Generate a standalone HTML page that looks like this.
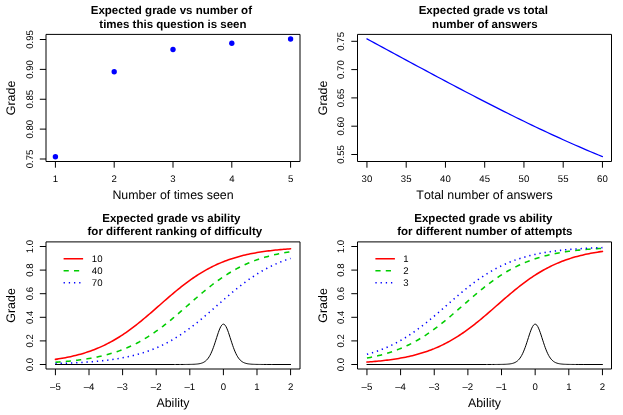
<!DOCTYPE html>
<html><head><meta charset="utf-8"><title>Expected grade plots</title>
<style>
html,body{margin:0;padding:0;background:#fff;}
body{width:623px;height:415px;overflow:hidden;}
svg{display:block;will-change:transform;}
text{font-family:"Liberation Sans",sans-serif;fill:#000;text-rendering:geometricPrecision;font-kerning:none;font-variant-ligatures:none;}
.t{font-size:9.6px;}
.l{font-size:12.4px;}
.m{font-size:11.53px;font-weight:bold;}
.ax{stroke:#000;stroke-width:1.0;fill:none;stroke-linejoin:round;}
.tk{stroke:#000;stroke-width:1;fill:none;}
</style></head><body>
<svg width="623" height="415" viewBox="0 0 623 415">
<rect width="623" height="415" fill="#fff"/>
<rect class="ax" x="46" y="34.4" width="254" height="127.1"/>
<path class="tk" d="M55.41 161.5v6.2M114.2 161.5v6.2M173 161.5v6.2M231.8 161.5v6.2M290.59 161.5v6.2"/>
<text class="t" x="55.41" y="181.9" text-anchor="middle">1</text>
<text class="t" x="114.2" y="181.9" text-anchor="middle">2</text>
<text class="t" x="173" y="181.9" text-anchor="middle">3</text>
<text class="t" x="231.8" y="181.9" text-anchor="middle">4</text>
<text class="t" x="290.59" y="181.9" text-anchor="middle">5</text>
<path class="tk" d="M46 39.5h-6.2M46 69.38h-6.2M46 99.25h-6.2M46 129.12h-6.2M46 159h-6.2"/>
<text class="t" transform="translate(32.6 39.5) rotate(-90)" text-anchor="middle">0.95</text>
<text class="t" transform="translate(32.6 69.38) rotate(-90)" text-anchor="middle">0.90</text>
<text class="t" transform="translate(32.6 99.25) rotate(-90)" text-anchor="middle">0.85</text>
<text class="t" transform="translate(32.6 129.12) rotate(-90)" text-anchor="middle">0.80</text>
<text class="t" transform="translate(32.6 159) rotate(-90)" text-anchor="middle">0.75</text>
<text class="l" x="173" y="199.4" text-anchor="middle">Number of times seen</text>
<text class="l" transform="translate(15.3 97.95) rotate(-90)" text-anchor="middle">Grade</text>
<text class="m" x="171.35" y="14" text-anchor="middle">Expected grade vs number of</text>
<text class="m" x="172.9" y="27.8" text-anchor="middle">times this question is seen</text>
<circle cx="55.41" cy="156.75" r="2.68" fill="#0000ff"/>
<circle cx="114.2" cy="71.8" r="2.68" fill="#0000ff"/>
<circle cx="173" cy="49.5" r="2.68" fill="#0000ff"/>
<circle cx="231.8" cy="43.2" r="2.68" fill="#0000ff"/>
<circle cx="290.59" cy="39" r="2.68" fill="#0000ff"/>
<rect class="ax" x="357.5" y="34.4" width="254" height="127.1"/>
<path class="tk" d="M366.95 161.5v6.2M406.2 161.5v6.2M445.45 161.5v6.2M484.7 161.5v6.2M523.95 161.5v6.2M563.2 161.5v6.2M602.45 161.5v6.2"/>
<text class="t" x="366.95" y="181.9" text-anchor="middle">30</text>
<text class="t" x="406.2" y="181.9" text-anchor="middle">35</text>
<text class="t" x="445.45" y="181.9" text-anchor="middle">40</text>
<text class="t" x="484.7" y="181.9" text-anchor="middle">45</text>
<text class="t" x="523.95" y="181.9" text-anchor="middle">50</text>
<text class="t" x="563.2" y="181.9" text-anchor="middle">55</text>
<text class="t" x="602.45" y="181.9" text-anchor="middle">60</text>
<path class="tk" d="M357.5 41.3h-6.2M357.5 69.6h-6.2M357.5 97.9h-6.2M357.5 126.2h-6.2M357.5 154.5h-6.2"/>
<text class="t" transform="translate(344.1 41.3) rotate(-90)" text-anchor="middle">0.75</text>
<text class="t" transform="translate(344.1 69.6) rotate(-90)" text-anchor="middle">0.70</text>
<text class="t" transform="translate(344.1 97.9) rotate(-90)" text-anchor="middle">0.65</text>
<text class="t" transform="translate(344.1 126.2) rotate(-90)" text-anchor="middle">0.60</text>
<text class="t" transform="translate(344.1 154.5) rotate(-90)" text-anchor="middle">0.55</text>
<text class="l" x="484.5" y="199.4" text-anchor="middle">Total number of answers</text>
<text class="l" transform="translate(326.8 97.95) rotate(-90)" text-anchor="middle">Grade</text>
<text class="m" x="483.3" y="14" text-anchor="middle">Expected grade vs total</text>
<text class="m" x="484.9" y="27.8" text-anchor="middle">number of answers</text>
<path d="M366.95 38.9 L370.88 41.02 L374.8 43.14 L378.72 45.26 L382.65 47.38 L386.57 49.5 L390.5 51.63 L394.43 53.75 L398.35 55.87 L402.27 57.99 L406.2 60.11 L410.12 62.22 L414.05 64.34 L417.97 66.45 L421.9 68.56 L425.82 70.67 L429.75 72.77 L433.67 74.87 L437.6 76.96 L441.52 79.05 L445.45 81.14 L449.38 83.22 L453.3 85.29 L457.23 87.36 L461.15 89.42 L465.07 91.48 L469 93.53 L472.93 95.57 L476.85 97.6 L480.77 99.63 L484.7 101.65 L488.62 103.65 L492.55 105.65 L496.48 107.64 L500.4 109.63 L504.32 111.6 L508.25 113.56 L512.17 115.51 L516.1 117.45 L520.02 119.37 L523.95 121.29 L527.88 123.19 L531.8 125.08 L535.73 126.96 L539.65 128.83 L543.58 130.68 L547.5 132.52 L551.42 134.34 L555.35 136.15 L559.27 137.94 L563.2 139.72 L567.12 141.49 L571.05 143.23 L574.98 144.97 L578.9 146.68 L582.83 148.38 L586.75 150.06 L590.67 151.72 L594.6 153.37 L598.52 154.99 L602.45 156.6" fill="none" stroke="#0000ff" stroke-width="1.25" stroke-linecap="round" stroke-linejoin="round"/>
<rect class="ax" x="46" y="241.9" width="254" height="127.1"/>
<path class="tk" d="M55.41 369v6.2M89.01 369v6.2M122.6 369v6.2M156.2 369v6.2M189.8 369v6.2M223.4 369v6.2M256.99 369v6.2M290.59 369v6.2"/>
<text class="t" x="55.41" y="390.05" text-anchor="middle">–5</text>
<text class="t" x="89.01" y="390.05" text-anchor="middle">–4</text>
<text class="t" x="122.6" y="390.05" text-anchor="middle">–3</text>
<text class="t" x="156.2" y="390.05" text-anchor="middle">–2</text>
<text class="t" x="189.8" y="390.05" text-anchor="middle">–1</text>
<text class="t" x="223.4" y="390.05" text-anchor="middle">0</text>
<text class="t" x="256.99" y="390.05" text-anchor="middle">1</text>
<text class="t" x="290.59" y="390.05" text-anchor="middle">2</text>
<path class="tk" d="M46 364.5h-6.2M46 340.9h-6.2M46 317.3h-6.2M46 293.7h-6.2M46 270.1h-6.2M46 246.5h-6.2"/>
<text class="t" transform="translate(32.6 364.5) rotate(-90)" text-anchor="middle">0.0</text>
<text class="t" transform="translate(32.6 340.9) rotate(-90)" text-anchor="middle">0.2</text>
<text class="t" transform="translate(32.6 317.3) rotate(-90)" text-anchor="middle">0.4</text>
<text class="t" transform="translate(32.6 293.7) rotate(-90)" text-anchor="middle">0.6</text>
<text class="t" transform="translate(32.6 270.1) rotate(-90)" text-anchor="middle">0.8</text>
<text class="t" transform="translate(32.6 246.5) rotate(-90)" text-anchor="middle">1.0</text>
<text class="l" x="173" y="406.9" text-anchor="middle">Ability</text>
<text class="l" transform="translate(15.3 305.45) rotate(-90)" text-anchor="middle">Grade</text>
<text class="m" x="171.4" y="221.5" text-anchor="middle">Expected grade vs ability</text>
<text class="m" x="174.85" y="235.3" text-anchor="middle">for different ranking of difficulty</text>
<path d="M55.41 359.36 L57.09 359.11 L58.77 358.85 L60.45 358.58 L62.13 358.29 L63.81 357.99 L65.49 357.67 L67.17 357.34 L68.85 357 L70.53 356.64 L72.21 356.27 L73.89 355.87 L75.57 355.47 L77.25 355.04 L78.93 354.6 L80.61 354.13 L82.29 353.65 L83.97 353.15 L85.65 352.62 L87.33 352.08 L89.01 351.51 L90.69 350.92 L92.37 350.31 L94.04 349.67 L95.72 349.01 L97.4 348.33 L99.08 347.62 L100.76 346.88 L102.44 346.12 L104.12 345.33 L105.8 344.51 L107.48 343.67 L109.16 342.8 L110.84 341.9 L112.52 340.97 L114.2 340.01 L115.88 339.03 L117.56 338.02 L119.24 336.98 L120.92 335.91 L122.6 334.81 L124.28 333.68 L125.96 332.53 L127.64 331.35 L129.32 330.15 L131 328.92 L132.68 327.66 L134.36 326.39 L136.04 325.08 L137.72 323.76 L139.4 322.42 L141.08 321.05 L142.76 319.67 L144.44 318.27 L146.12 316.86 L147.8 315.43 L149.48 314 L151.16 312.55 L152.84 311.09 L154.52 309.62 L156.2 308.15 L157.88 306.68 L159.56 305.21 L161.24 303.73 L162.92 302.26 L164.6 300.79 L166.28 299.33 L167.96 297.87 L169.64 296.43 L171.32 294.99 L173 293.57 L174.68 292.16 L176.36 290.77 L178.04 289.4 L179.72 288.04 L181.4 286.71 L183.08 285.39 L184.76 284.1 L186.44 282.83 L188.12 281.59 L189.8 280.37 L191.48 279.17 L193.16 278 L194.84 276.86 L196.52 275.75 L198.2 274.66 L199.88 273.6 L201.56 272.57 L203.24 271.57 L204.92 270.6 L206.6 269.66 L208.28 268.74 L209.96 267.85 L211.64 266.99 L213.32 266.16 L215 265.35 L216.68 264.57 L218.36 263.82 L220.04 263.1 L221.72 262.39 L223.4 261.72 L225.08 261.07 L226.76 260.44 L228.44 259.84 L230.12 259.26 L231.8 258.7 L233.48 258.17 L235.16 257.65 L236.84 257.16 L238.52 256.68 L240.2 256.22 L241.88 255.79 L243.56 255.37 L245.24 254.97 L246.92 254.58 L248.6 254.21 L250.28 253.86 L251.96 253.52 L253.63 253.2 L255.31 252.89 L256.99 252.6 L258.67 252.31 L260.35 252.04 L262.03 251.78 L263.71 251.54 L265.39 251.3 L267.07 251.08 L268.75 250.86 L270.43 250.66 L272.11 250.46 L273.79 250.27 L275.47 250.1 L277.15 249.93 L278.83 249.76 L280.51 249.61 L282.19 249.46 L283.87 249.32 L285.55 249.18 L287.23 249.06 L288.91 248.93 L290.59 248.82" fill="none" stroke="#ff0000" stroke-width="1.55" stroke-linecap="round" stroke-linejoin="round"/>
<path d="M63.6 258.75h19.5" fill="none" stroke="#ff0000" stroke-width="1.55"/>
<text class="t" x="91.8" y="261.9">10</text>
<path d="M55.41 362.24 L57.09 362.12 L58.77 362 L60.45 361.88 L62.13 361.75 L63.81 361.61 L65.49 361.47 L67.17 361.32 L68.85 361.16 L70.53 360.99 L72.21 360.82 L73.89 360.63 L75.57 360.44 L77.25 360.24 L78.93 360.03 L80.61 359.81 L82.29 359.58 L83.97 359.34 L85.65 359.09 L87.33 358.82 L89.01 358.55 L90.69 358.26 L92.37 357.96 L94.04 357.64 L95.72 357.31 L97.4 356.96 L99.08 356.6 L100.76 356.23 L102.44 355.83 L104.12 355.42 L105.8 355 L107.48 354.55 L109.16 354.08 L110.84 353.6 L112.52 353.1 L114.2 352.57 L115.88 352.02 L117.56 351.45 L119.24 350.86 L120.92 350.25 L122.6 349.61 L124.28 348.95 L125.96 348.26 L127.64 347.54 L129.32 346.81 L131 346.04 L132.68 345.25 L134.36 344.43 L136.04 343.58 L137.72 342.71 L139.4 341.81 L141.08 340.88 L142.76 339.92 L144.44 338.93 L146.12 337.91 L147.8 336.87 L149.48 335.8 L151.16 334.7 L152.84 333.57 L154.52 332.42 L156.2 331.23 L157.88 330.03 L159.56 328.79 L161.24 327.54 L162.92 326.26 L164.6 324.95 L166.28 323.63 L167.96 322.28 L169.64 320.92 L171.32 319.53 L173 318.13 L174.68 316.72 L176.36 315.29 L178.04 313.85 L179.72 312.4 L181.4 310.94 L183.08 309.48 L184.76 308.01 L186.44 306.53 L188.12 305.06 L189.8 303.58 L191.48 302.11 L193.16 300.64 L194.84 299.18 L196.52 297.73 L198.2 296.28 L199.88 294.85 L201.56 293.43 L203.24 292.02 L204.92 290.63 L206.6 289.26 L208.28 287.91 L209.96 286.57 L211.64 285.26 L213.32 283.97 L215 282.71 L216.68 281.46 L218.36 280.25 L220.04 279.05 L221.72 277.89 L223.4 276.75 L225.08 275.64 L226.76 274.56 L228.44 273.5 L230.12 272.47 L231.8 271.47 L233.48 270.5 L235.16 269.56 L236.84 268.65 L238.52 267.76 L240.2 266.91 L241.88 266.08 L243.56 265.27 L245.24 264.5 L246.92 263.75 L248.6 263.02 L250.28 262.33 L251.96 261.65 L253.63 261.01 L255.31 260.38 L256.99 259.78 L258.67 259.2 L260.35 258.65 L262.03 258.11 L263.71 257.6 L265.39 257.11 L267.07 256.63 L268.75 256.18 L270.43 255.75 L272.11 255.33 L273.79 254.93 L275.47 254.55 L277.15 254.18 L278.83 253.83 L280.51 253.49 L282.19 253.17 L283.87 252.86 L285.55 252.57 L287.23 252.29 L288.91 252.02 L290.59 251.76" fill="none" stroke="#00cd00" stroke-width="1.55" stroke-linecap="butt" stroke-linejoin="round" stroke-dasharray="5.19 5.19"/>
<path d="M63.6 270.75h19.5" fill="none" stroke="#00cd00" stroke-width="1.55" stroke-dasharray="5.19 5.19"/>
<text class="t" x="91.8" y="273.9">40</text>
<path d="M55.41 363.55 L57.09 363.5 L58.77 363.45 L60.45 363.4 L62.13 363.34 L63.81 363.28 L65.49 363.22 L67.17 363.16 L68.85 363.09 L70.53 363.02 L72.21 362.94 L73.89 362.86 L75.57 362.78 L77.25 362.69 L78.93 362.6 L80.61 362.51 L82.29 362.4 L83.97 362.3 L85.65 362.19 L87.33 362.07 L89.01 361.95 L90.69 361.82 L92.37 361.69 L94.04 361.55 L95.72 361.4 L97.4 361.25 L99.08 361.08 L100.76 360.91 L102.44 360.74 L104.12 360.55 L105.8 360.35 L107.48 360.15 L109.16 359.94 L110.84 359.71 L112.52 359.48 L114.2 359.23 L115.88 358.97 L117.56 358.7 L119.24 358.42 L120.92 358.13 L122.6 357.82 L124.28 357.5 L125.96 357.16 L127.64 356.81 L129.32 356.44 L131 356.06 L132.68 355.66 L134.36 355.24 L136.04 354.8 L137.72 354.35 L139.4 353.87 L141.08 353.38 L142.76 352.87 L144.44 352.33 L146.12 351.77 L147.8 351.2 L149.48 350.59 L151.16 349.97 L152.84 349.32 L154.52 348.65 L156.2 347.95 L157.88 347.22 L159.56 346.47 L161.24 345.7 L162.92 344.89 L164.6 344.06 L166.28 343.2 L167.96 342.31 L169.64 341.4 L171.32 340.46 L173 339.49 L174.68 338.49 L176.36 337.46 L178.04 336.4 L179.72 335.32 L181.4 334.21 L183.08 333.07 L184.76 331.9 L186.44 330.71 L188.12 329.49 L189.8 328.24 L191.48 326.98 L193.16 325.69 L194.84 324.37 L196.52 323.04 L198.2 321.68 L199.88 320.31 L201.56 318.92 L203.24 317.51 L204.92 316.09 L206.6 314.66 L208.28 313.21 L209.96 311.76 L211.64 310.3 L213.32 308.83 L215 307.36 L216.68 305.88 L218.36 304.41 L220.04 302.94 L221.72 301.46 L223.4 300 L225.08 298.54 L226.76 297.09 L228.44 295.65 L230.12 294.22 L231.8 292.81 L233.48 291.41 L235.16 290.03 L236.84 288.66 L238.52 287.32 L240.2 285.99 L241.88 284.69 L243.56 283.41 L245.24 282.16 L246.92 280.92 L248.6 279.72 L250.28 278.54 L251.96 277.38 L253.63 276.26 L255.31 275.16 L256.99 274.09 L258.67 273.05 L260.35 272.03 L262.03 271.04 L263.71 270.09 L265.39 269.16 L267.07 268.26 L268.75 267.38 L270.43 266.54 L272.11 265.72 L273.79 264.93 L275.47 264.16 L277.15 263.43 L278.83 262.71 L280.51 262.03 L282.19 261.37 L283.87 260.73 L285.55 260.11 L287.23 259.52 L288.91 258.96 L290.59 258.41" fill="none" stroke="#0000ff" stroke-width="1.55" stroke-linecap="butt" stroke-linejoin="round" stroke-dasharray="1.297 3.891"/>
<path d="M63.6 282.75h19.5" fill="none" stroke="#0000ff" stroke-width="1.55" stroke-dasharray="1.297 3.891"/>
<text class="t" x="91.8" y="285.9">70</text>
<path d="M55.41 364.5 L174.68 364.5 L175.52 364.49 L179.72 364.49 L180.56 364.48 L183.08 364.48 L183.92 364.47 L184.76 364.46 L185.6 364.46 L186.44 364.45 L187.28 364.44 L188.12 364.43 L188.96 364.42 L189.8 364.4 L190.64 364.38 L191.48 364.36 L192.32 364.34 L193.16 364.3 L194 364.27 L194.84 364.22 L195.68 364.16 L196.52 364.09 L197.36 364.01 L198.2 363.9 L199.04 363.77 L199.88 363.61 L200.72 363.41 L201.56 363.16 L202.4 362.86 L203.24 362.5 L204.08 362.05 L204.92 361.51 L205.76 360.85 L206.6 360.08 L207.44 359.16 L208.28 358.08 L209.12 356.82 L209.96 355.38 L210.8 353.74 L211.64 351.91 L212.48 349.88 L213.32 347.67 L214.16 345.29 L215 342.78 L215.84 340.18 L216.68 337.55 L217.52 334.95 L218.36 332.45 L219.2 330.15 L220.04 328.12 L220.88 326.44 L221.72 325.18 L222.56 324.41 L223.4 324.14 L224.24 324.41 L225.08 325.18 L225.92 326.44 L226.76 328.12 L227.6 330.15 L228.44 332.45 L229.28 334.95 L230.12 337.55 L230.96 340.18 L231.8 342.78 L232.64 345.29 L233.48 347.67 L234.32 349.88 L235.16 351.91 L236 353.74 L236.84 355.38 L237.68 356.82 L238.52 358.08 L239.36 359.16 L240.2 360.08 L241.04 360.85 L241.88 361.51 L242.72 362.05 L243.56 362.5 L244.4 362.86 L245.24 363.16 L246.08 363.41 L246.92 363.61 L247.76 363.77 L248.6 363.9 L249.44 364.01 L250.28 364.09 L251.12 364.16 L251.96 364.22 L252.79 364.27 L253.63 364.3 L254.47 364.34 L255.31 364.36 L256.15 364.38 L256.99 364.4 L257.83 364.42 L258.67 364.43 L259.51 364.44 L260.35 364.45 L261.19 364.46 L262.03 364.46 L262.87 364.47 L263.71 364.48 L266.23 364.48 L267.07 364.49 L271.27 364.49 L272.11 364.5 L290.59 364.5" fill="none" stroke="#000" stroke-width="1.0" stroke-linejoin="round" stroke-linecap="round"/>
<rect class="ax" x="357.5" y="241.9" width="254" height="127.1"/>
<path class="tk" d="M366.95 369v6.2M400.59 369v6.2M434.24 369v6.2M467.88 369v6.2M501.52 369v6.2M535.16 369v6.2M568.81 369v6.2M602.45 369v6.2"/>
<text class="t" x="366.95" y="390.05" text-anchor="middle">–5</text>
<text class="t" x="400.59" y="390.05" text-anchor="middle">–4</text>
<text class="t" x="434.24" y="390.05" text-anchor="middle">–3</text>
<text class="t" x="467.88" y="390.05" text-anchor="middle">–2</text>
<text class="t" x="501.52" y="390.05" text-anchor="middle">–1</text>
<text class="t" x="535.16" y="390.05" text-anchor="middle">0</text>
<text class="t" x="568.81" y="390.05" text-anchor="middle">1</text>
<text class="t" x="602.45" y="390.05" text-anchor="middle">2</text>
<path class="tk" d="M357.5 364.5h-6.2M357.5 340.9h-6.2M357.5 317.3h-6.2M357.5 293.7h-6.2M357.5 270.1h-6.2M357.5 246.5h-6.2"/>
<text class="t" transform="translate(344.1 364.5) rotate(-90)" text-anchor="middle">0.0</text>
<text class="t" transform="translate(344.1 340.9) rotate(-90)" text-anchor="middle">0.2</text>
<text class="t" transform="translate(344.1 317.3) rotate(-90)" text-anchor="middle">0.4</text>
<text class="t" transform="translate(344.1 293.7) rotate(-90)" text-anchor="middle">0.6</text>
<text class="t" transform="translate(344.1 270.1) rotate(-90)" text-anchor="middle">0.8</text>
<text class="t" transform="translate(344.1 246.5) rotate(-90)" text-anchor="middle">1.0</text>
<text class="l" x="484.5" y="406.9" text-anchor="middle">Ability</text>
<text class="l" transform="translate(326.8 305.45) rotate(-90)" text-anchor="middle">Grade</text>
<text class="m" x="483.4" y="221.5" text-anchor="middle">Expected grade vs ability</text>
<text class="m" x="484.8" y="235.3" text-anchor="middle">for different number of attempts</text>
<path d="M366.95 362.07 L368.63 361.94 L370.31 361.82 L372 361.68 L373.68 361.54 L375.36 361.39 L377.04 361.24 L378.73 361.07 L380.41 360.9 L382.09 360.73 L383.77 360.54 L385.45 360.34 L387.14 360.14 L388.82 359.92 L390.5 359.7 L392.18 359.46 L393.86 359.22 L395.55 358.96 L397.23 358.69 L398.91 358.4 L400.59 358.11 L402.28 357.8 L403.96 357.48 L405.64 357.14 L407.32 356.79 L409 356.42 L410.69 356.03 L412.37 355.63 L414.05 355.21 L415.73 354.78 L417.41 354.32 L419.1 353.84 L420.78 353.35 L422.46 352.83 L424.14 352.3 L425.83 351.74 L427.51 351.16 L429.19 350.56 L430.87 349.93 L432.55 349.28 L434.24 348.61 L435.92 347.9 L437.6 347.18 L439.28 346.43 L440.96 345.65 L442.65 344.84 L444.33 344.01 L446.01 343.15 L447.69 342.26 L449.38 341.34 L451.06 340.4 L452.74 339.43 L454.42 338.43 L456.1 337.4 L457.79 336.34 L459.47 335.25 L461.15 334.14 L462.83 333 L464.51 331.83 L466.2 330.63 L467.88 329.41 L469.56 328.17 L471.24 326.9 L472.93 325.61 L474.61 324.29 L476.29 322.96 L477.97 321.6 L479.65 320.23 L481.34 318.84 L483.02 317.43 L484.7 316.01 L486.38 314.57 L488.06 313.13 L489.75 311.67 L491.43 310.21 L493.11 308.74 L494.79 307.27 L496.48 305.79 L498.16 304.32 L499.84 302.85 L501.52 301.38 L503.2 299.91 L504.89 298.45 L506.57 297 L508.25 295.57 L509.93 294.14 L511.61 292.73 L513.3 291.33 L514.98 289.95 L516.66 288.58 L518.34 287.24 L520.03 285.92 L521.71 284.61 L523.39 283.34 L525.07 282.08 L526.75 280.85 L528.44 279.65 L530.12 278.47 L531.8 277.32 L533.48 276.19 L535.16 275.09 L536.85 274.02 L538.53 272.98 L540.21 271.97 L541.89 270.99 L543.58 270.03 L545.26 269.1 L546.94 268.2 L548.62 267.33 L550.3 266.49 L551.99 265.67 L553.67 264.88 L555.35 264.12 L557.03 263.38 L558.72 262.67 L560.4 261.99 L562.08 261.33 L563.76 260.69 L565.44 260.08 L567.13 259.49 L568.81 258.92 L570.49 258.38 L572.17 257.85 L573.85 257.35 L575.54 256.87 L577.22 256.4 L578.9 255.96 L580.58 255.53 L582.27 255.13 L583.95 254.73 L585.63 254.36 L587.31 254 L588.99 253.66 L590.68 253.33 L592.36 253.01 L594.04 252.71 L595.72 252.42 L597.4 252.15 L599.09 251.89 L600.77 251.64 L602.45 251.4" fill="none" stroke="#ff0000" stroke-width="1.55" stroke-linecap="round" stroke-linejoin="round"/>
<path d="M375.4 258.75h19.5" fill="none" stroke="#ff0000" stroke-width="1.55"/>
<text class="t" x="403.3" y="261.9">1</text>
<path d="M366.95 358.05 L368.63 357.74 L370.31 357.41 L372 357.07 L373.68 356.71 L375.36 356.34 L377.04 355.95 L378.73 355.55 L380.41 355.13 L382.09 354.69 L383.77 354.23 L385.45 353.75 L387.14 353.25 L388.82 352.73 L390.5 352.19 L392.18 351.63 L393.86 351.04 L395.55 350.43 L397.23 349.8 L398.91 349.15 L400.59 348.47 L402.28 347.76 L403.96 347.03 L405.64 346.27 L407.32 345.49 L409 344.68 L410.69 343.84 L412.37 342.97 L414.05 342.08 L415.73 341.16 L417.41 340.21 L419.1 339.23 L420.78 338.22 L422.46 337.19 L424.14 336.12 L425.83 335.03 L427.51 333.91 L429.19 332.76 L430.87 331.59 L432.55 330.39 L434.24 329.17 L435.92 327.92 L437.6 326.64 L439.28 325.35 L440.96 324.03 L442.65 322.69 L444.33 321.33 L446.01 319.95 L447.69 318.56 L449.38 317.15 L451.06 315.72 L452.74 314.28 L454.42 312.84 L456.1 311.38 L457.79 309.92 L459.47 308.45 L461.15 306.97 L462.83 305.5 L464.51 304.03 L466.2 302.55 L467.88 301.08 L469.56 299.62 L471.24 298.16 L472.93 296.72 L474.61 295.28 L476.29 293.85 L477.97 292.44 L479.65 291.05 L481.34 289.67 L483.02 288.31 L484.7 286.97 L486.38 285.65 L488.06 284.36 L489.75 283.08 L491.43 281.83 L493.11 280.61 L494.79 279.41 L496.48 278.24 L498.16 277.09 L499.84 275.97 L501.52 274.88 L503.2 273.81 L504.89 272.78 L506.57 271.77 L508.25 270.79 L509.93 269.84 L511.61 268.92 L513.3 268.03 L514.98 267.16 L516.66 266.32 L518.34 265.51 L520.03 264.73 L521.71 263.97 L523.39 263.24 L525.07 262.53 L526.75 261.85 L528.44 261.2 L530.12 260.57 L531.8 259.96 L533.48 259.37 L535.16 258.81 L536.85 258.27 L538.53 257.75 L540.21 257.25 L541.89 256.77 L543.58 256.31 L545.26 255.87 L546.94 255.45 L548.62 255.05 L550.3 254.66 L551.99 254.29 L553.67 253.93 L555.35 253.59 L557.03 253.26 L558.72 252.95 L560.4 252.65 L562.08 252.37 L563.76 252.1 L565.44 251.84 L567.13 251.59 L568.81 251.35 L570.49 251.12 L572.17 250.9 L573.85 250.7 L575.54 250.5 L577.22 250.31 L578.9 250.13 L580.58 249.96 L582.27 249.79 L583.95 249.64 L585.63 249.49 L587.31 249.35 L588.99 249.21 L590.68 249.08 L592.36 248.96 L594.04 248.84 L595.72 248.73 L597.4 248.62 L599.09 248.52 L600.77 248.42 L602.45 248.33" fill="none" stroke="#00cd00" stroke-width="1.55" stroke-linecap="butt" stroke-linejoin="round" stroke-dasharray="5.19 5.19"/>
<path d="M375.4 270.75h19.5" fill="none" stroke="#00cd00" stroke-width="1.55" stroke-dasharray="5.19 5.19"/>
<text class="t" x="403.3" y="273.9">2</text>
<path d="M366.95 354.36 L368.63 353.88 L370.31 353.39 L372 352.88 L373.68 352.34 L375.36 351.79 L377.04 351.21 L378.73 350.61 L380.41 349.98 L382.09 349.33 L383.77 348.66 L385.45 347.96 L387.14 347.24 L388.82 346.49 L390.5 345.71 L392.18 344.91 L393.86 344.08 L395.55 343.22 L397.23 342.33 L398.91 341.42 L400.59 340.48 L402.28 339.51 L403.96 338.51 L405.64 337.48 L407.32 336.42 L409 335.34 L410.69 334.23 L412.37 333.09 L414.05 331.92 L415.73 330.73 L417.41 329.51 L419.1 328.27 L420.78 327 L422.46 325.71 L424.14 324.4 L425.83 323.06 L427.51 321.71 L429.19 320.34 L430.87 318.95 L432.55 317.54 L434.24 316.12 L435.92 314.69 L437.6 313.24 L439.28 311.79 L440.96 310.33 L442.65 308.86 L444.33 307.39 L446.01 305.91 L447.69 304.44 L449.38 302.96 L451.06 301.49 L452.74 300.03 L454.42 298.57 L456.1 297.12 L457.79 295.68 L459.47 294.25 L461.15 292.84 L462.83 291.44 L464.51 290.06 L466.2 288.69 L467.88 287.35 L469.56 286.02 L471.24 284.72 L472.93 283.44 L474.61 282.18 L476.29 280.95 L477.97 279.74 L479.65 278.56 L481.34 277.41 L483.02 276.28 L484.7 275.18 L486.38 274.11 L488.06 273.07 L489.75 272.05 L491.43 271.06 L493.11 270.11 L494.79 269.18 L496.48 268.27 L498.16 267.4 L499.84 266.55 L501.52 265.74 L503.2 264.94 L504.89 264.18 L506.57 263.44 L508.25 262.73 L509.93 262.04 L511.61 261.38 L513.3 260.74 L514.98 260.13 L516.66 259.53 L518.34 258.97 L520.03 258.42 L521.71 257.89 L523.39 257.39 L525.07 256.91 L526.75 256.44 L528.44 256 L530.12 255.57 L531.8 255.16 L533.48 254.77 L535.16 254.39 L536.85 254.03 L538.53 253.68 L540.21 253.35 L541.89 253.04 L543.58 252.74 L545.26 252.45 L546.94 252.17 L548.62 251.91 L550.3 251.66 L551.99 251.41 L553.67 251.18 L555.35 250.96 L557.03 250.75 L558.72 250.55 L560.4 250.36 L562.08 250.18 L563.76 250.01 L565.44 249.84 L567.13 249.68 L568.81 249.53 L570.49 249.39 L572.17 249.25 L573.85 249.12 L575.54 248.99 L577.22 248.87 L578.9 248.76 L580.58 248.65 L582.27 248.55 L583.95 248.45 L585.63 248.36 L587.31 248.27 L588.99 248.18 L590.68 248.1 L592.36 248.02 L594.04 247.95 L595.72 247.88 L597.4 247.81 L599.09 247.75 L600.77 247.69 L602.45 247.63" fill="none" stroke="#0000ff" stroke-width="1.55" stroke-linecap="butt" stroke-linejoin="round" stroke-dasharray="1.297 3.891"/>
<path d="M375.4 282.75h19.5" fill="none" stroke="#0000ff" stroke-width="1.55" stroke-dasharray="1.297 3.891"/>
<text class="t" x="403.3" y="285.9">3</text>
<path d="M366.95 364.5 L486.38 364.5 L487.22 364.49 L491.43 364.49 L492.27 364.48 L494.79 364.48 L495.63 364.47 L496.48 364.46 L497.32 364.46 L498.16 364.45 L499 364.44 L499.84 364.43 L500.68 364.42 L501.52 364.4 L502.36 364.38 L503.2 364.36 L504.05 364.34 L504.89 364.3 L505.73 364.27 L506.57 364.22 L507.41 364.16 L508.25 364.09 L509.09 364.01 L509.93 363.9 L510.77 363.77 L511.61 363.61 L512.46 363.41 L513.3 363.16 L514.14 362.86 L514.98 362.5 L515.82 362.05 L516.66 361.51 L517.5 360.85 L518.34 360.08 L519.18 359.16 L520.03 358.08 L520.87 356.82 L521.71 355.38 L522.55 353.74 L523.39 351.91 L524.23 349.88 L525.07 347.67 L525.91 345.29 L526.75 342.78 L527.6 340.18 L528.44 337.55 L529.28 334.95 L530.12 332.45 L530.96 330.15 L531.8 328.12 L532.64 326.44 L533.48 325.18 L534.32 324.41 L535.16 324.14 L536.01 324.41 L536.85 325.18 L537.69 326.44 L538.53 328.12 L539.37 330.15 L540.21 332.45 L541.05 334.95 L541.89 337.55 L542.73 340.18 L543.58 342.78 L544.42 345.29 L545.26 347.67 L546.1 349.88 L546.94 351.91 L547.78 353.74 L548.62 355.38 L549.46 356.82 L550.3 358.08 L551.15 359.16 L551.99 360.08 L552.83 360.85 L553.67 361.51 L554.51 362.05 L555.35 362.5 L556.19 362.86 L557.03 363.16 L557.87 363.41 L558.72 363.61 L559.56 363.77 L560.4 363.9 L561.24 364.01 L562.08 364.09 L562.92 364.16 L563.76 364.22 L564.6 364.27 L565.44 364.3 L566.28 364.34 L567.13 364.36 L567.97 364.38 L568.81 364.4 L569.65 364.42 L570.49 364.43 L571.33 364.44 L572.17 364.45 L573.01 364.46 L573.85 364.46 L574.7 364.47 L575.54 364.48 L578.06 364.48 L578.9 364.49 L583.11 364.49 L583.95 364.5 L602.45 364.5" fill="none" stroke="#000" stroke-width="1.0" stroke-linejoin="round" stroke-linecap="round"/>
</svg>
</body></html>
